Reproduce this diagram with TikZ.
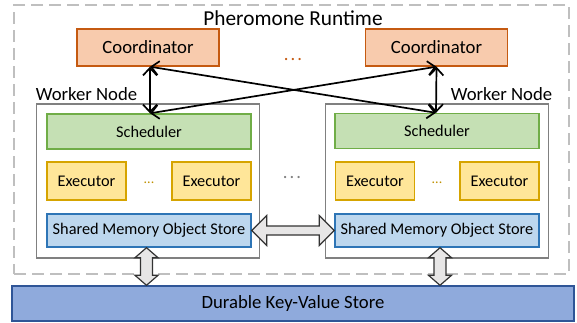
\documentclass[tikz,border=0pt]{standalone}
\usepackage{fontspec}
\setmainfont{Carlito}
\usetikzlibrary{arrows.meta,calc}
\definecolor{coordfill}{HTML}{F8CBAD}
\definecolor{coorddraw}{HTML}{C55A11}
\definecolor{schedfill}{HTML}{C5E0B4}
\definecolor{scheddraw}{HTML}{70AD47}
\definecolor{execfill}{HTML}{FFE699}
\definecolor{execdraw}{HTML}{D6A400}
\definecolor{smfill}{HTML}{BDD7EE}
\definecolor{smdraw}{HTML}{2E75B6}
\definecolor{kvfill}{HTML}{8FAADC}
\definecolor{kvdraw}{HTML}{2F5597}
\definecolor{blkfill}{HTML}{E7E6E6}
\definecolor{dashgray}{HTML}{BFBFBF}
\definecolor{dotgold}{HTML}{BF9000}
\tikzset{
  box/.style={draw, line width=1.4pt, inner sep=0pt, align=center},
  coordbox/.style={box, fill=coordfill, draw=coorddraw, minimum width=142pt, minimum height=37pt, font=\fontsize{18.7}{20}\selectfont},
  schedbox/.style={box, fill=schedfill, draw=scheddraw, minimum width=204pt, minimum height=35pt, font=\fontsize{16.3}{18}\selectfont},
  execbox/.style={box, fill=execfill, draw=execdraw, minimum width=79pt, minimum height=38pt, font=\fontsize{16.3}{18}\selectfont},
  smbox/.style={box, fill=smfill, draw=smdraw, minimum width=204pt, minimum height=33pt, font=\fontsize{16.3}{18}\selectfont},
  workerbox/.style={draw=gray, line width=1.4pt, minimum width=223pt, minimum height=154pt, inner sep=0pt},
  lbl/.style={inner sep=0pt, font=\fontsize{18.7}{20}\selectfont},
  thinarrow/.style={line width=1.7pt, {Straight Barb[length=7.5pt,width=14pt]}-{Straight Barb[length=7.5pt,width=14pt]}},
  blk/.style={fill=blkfill, draw=black!80, line width=1.2pt, line join=miter},
}
\begin{document}
\begin{tikzpicture}[x=1pt,y=-1pt]
\useasboundingbox (0,0) rectangle (577,322);
% outer runtime frame
\node[draw=dashgray, dash pattern=on 12pt off 6pt, line width=2pt, minimum width=555pt, minimum height=269pt, inner sep=0pt] (runtime) at (291.5,139.5) {};
\node[lbl, font=\fontsize{21.3}{23}\selectfont] (title) at (293,18) {Pheromone Runtime};
% coordinators
\node[coordbox] (coordL) at (148,47.5) {Coordinator};
\node[coordbox] (coordR) at (436.5,47.5) {Coordinator};
\node[lbl, text=coorddraw] (cdots) at (293,60) {.\hspace{2pt}.\hspace{2pt}.};
% worker nodes
\node[workerbox] (workL) at (148,181) {};
\node[workerbox] (workR) at (437,181) {};
\node[lbl] (wlabL) at (86.5,94) {Worker Node};
\node[lbl] (wlabR) at (501.5,94) {Worker Node};
\node[lbl, text=gray] (wdots) at (292,178) {.\hspace{2pt}.\hspace{2pt}.};
% schedulers
\node[schedbox] (schedL) at (149,131.5) {Scheduler};
\node[schedbox] (schedR) at (437,131) {Scheduler};
% executors
\node[execbox] (exL1) at (86.5,181) {Executor};
\node[execbox] (exL2) at (211.5,181) {Executor};
\node[lbl, text=dotgold, font=\fontsize{14}{16}\selectfont] (exdL) at (149,183) {...};
\node[execbox] (exR1) at (375,181) {Executor};
\node[execbox] (exR2) at (499.5,181) {Executor};
\node[lbl, text=dotgold, font=\fontsize{14}{16}\selectfont] (exdR) at (437,182.5) {...};
% shared memory stores
\node[smbox] (smL) at (149,230.5) {Shared Memory Object Store};
\node[smbox] (smR) at (437,230.5) {Shared Memory Object Store};
% KV store
\node[box, fill=kvfill, draw=kvdraw, minimum width=562pt, minimum height=35pt, font=\fontsize{18.7}{20}\selectfont] (kv) at (293,303.5) {Durable Key-Value Store};
% thin arrows
\draw[thinarrow] ($(coordL.south)+(2,0)$) -- ($(schedL.north)+(1,0)$);
\draw[thinarrow] (coordR.south) -- ($(schedR.north)+(-1,0)$);
\draw[thinarrow] ($(coordL.south)+(2,0)$) -- ($(schedR.north)+(-1,0)$);
\draw[thinarrow] (coordR.south) -- ($(schedL.north)+(1,0)$);
% horizontal block arrow
\coordinate (hA) at (smL.east);
\coordinate (hB) at (smR.west);
\draw[blk] (hA) -- ++(15,-15) -- ++(0,10.5) -- ($(hB)+(-15,-4.5)$) -- ++(0,-10.5) -- (hB) -- ++(-15,15) -- ++(0,-10.5) -- ($(hA)+(15,4.5)$) -- ++(0,10.5) -- cycle;
% vertical block arrows
\coordinate (vAL) at ($(smL.south)+(-2.5,0)$);
\coordinate (vBL) at (vAL |- kv.north);
\draw[blk] (vAL) -- ++(11.5,10) -- ++(-5.5,0) -- ($(vBL)+(6,-10)$) -- ++(5.5,0) -- (vBL) -- ++(-11.5,-10) -- ++(5.5,0) -- ($(vAL)+(-6,10)$) -- ++(-5.5,0) -- cycle;
\coordinate (vAR) at ($(smR.south)+(3,0)$);
\coordinate (vBR) at (vAR |- kv.north);
\draw[blk] (vAR) -- ++(11.5,10) -- ++(-5.5,0) -- ($(vBR)+(6,-10)$) -- ++(5.5,0) -- (vBR) -- ++(-11.5,-10) -- ++(5.5,0) -- ($(vAR)+(-6,10)$) -- ++(-5.5,0) -- cycle;
\end{tikzpicture}
\end{document}
